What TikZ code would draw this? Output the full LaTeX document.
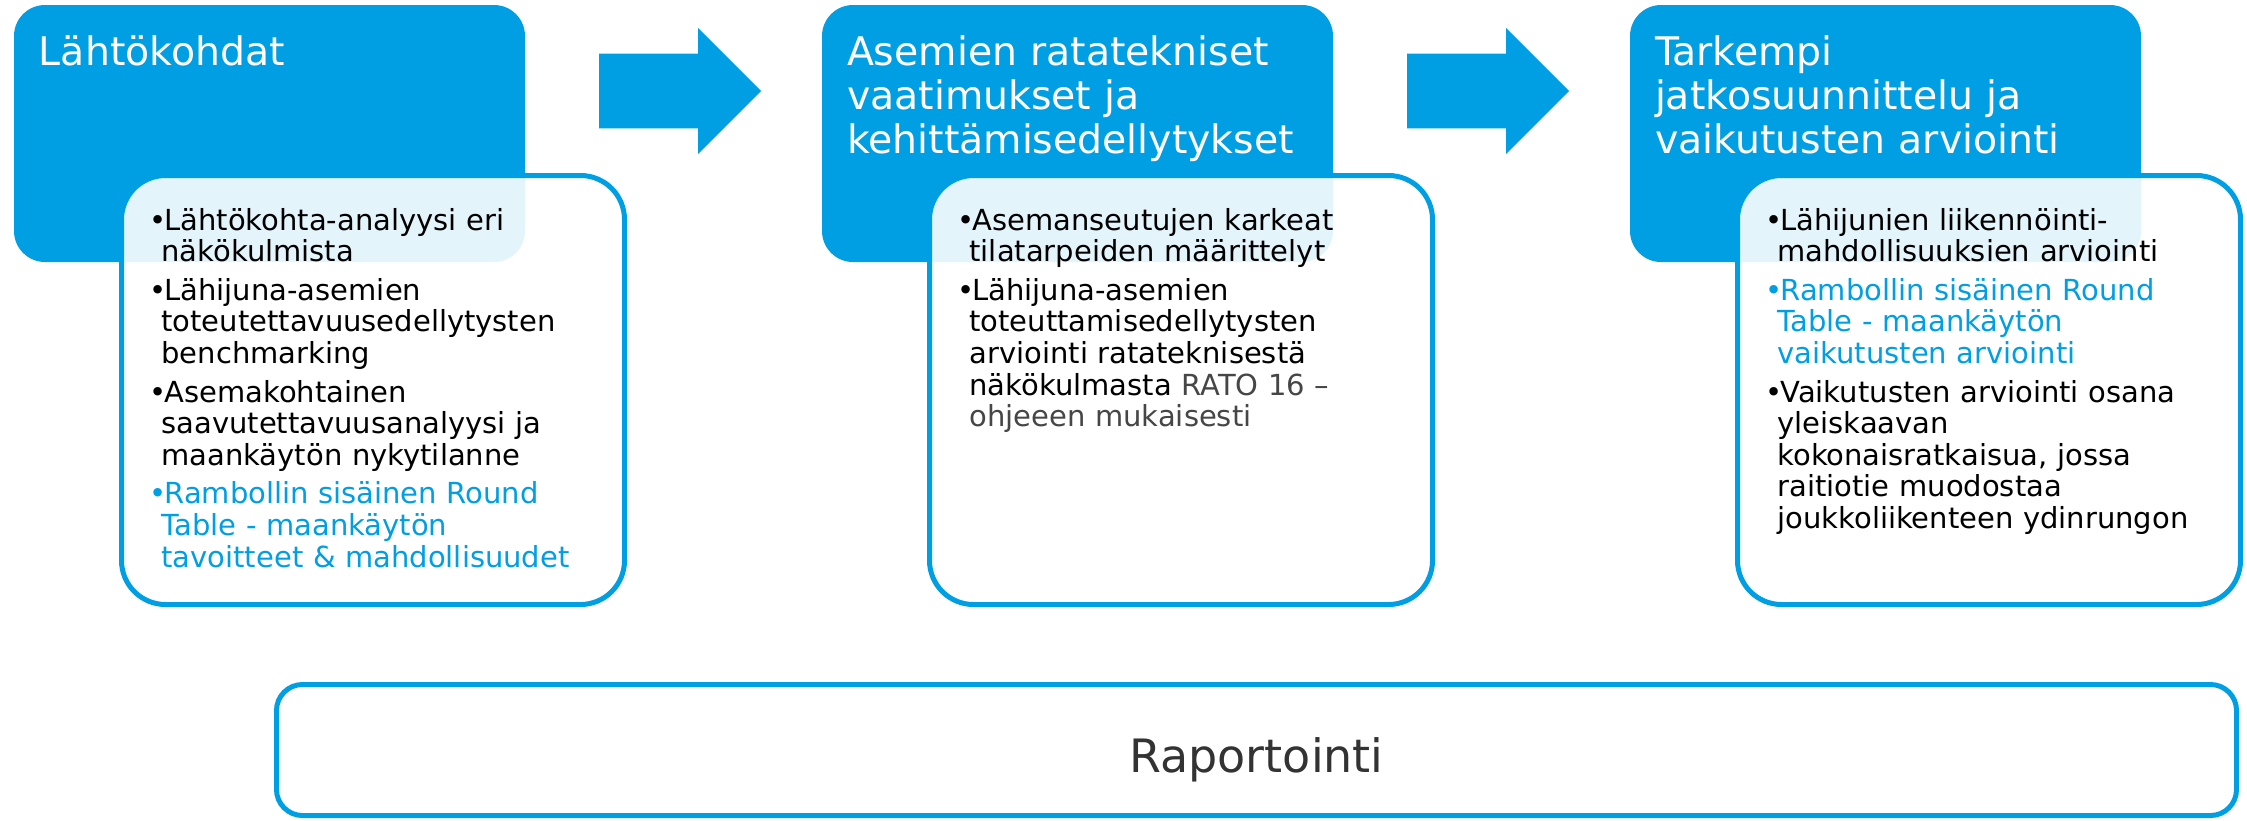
\documentclass[tikz,border=0pt]{standalone}
\usepackage{fontspec}
\setmainfont{DejaVu Sans}
\usepackage{xcolor}
\usetikzlibrary{positioning}
\usetikzlibrary{shapes.arrows}

\definecolor{rblue}{RGB}{0,158,227}
\definecolor{rgrey}{RGB}{51,51,51}
\definecolor{rdark}{RGB}{70,70,70}

\newcommand{\itm}[2][black]{\hangindent=4pt\hangafter=1\noindent
    {\color{#1}\makebox[5.5pt][l]{\hspace{-2pt}•}#2}\parskip=3.5pt\par}

\begin{document}
\begin{tikzpicture}[
    basic/.style={inner sep=0,outer sep=0},
    phase/.style={basic,fill=rblue,rounded corners=15.5pt,minimum width=255.5pt,minimum height=128.5pt},
    phasetitle/.style={basic,text=white,align=left,text width=240pt,font=\fontsize{19.7pt}{22pt}\selectfont},
    tasks/.style={basic,draw=rblue,line width=2.5pt,fill=white,fill opacity=0.89,rounded corners=22pt,minimum width=251.5pt,minimum height=214.5pt},
    tasklist/.style={basic,align=left,text width=232pt,font=\fontsize{14.5pt}{15.8pt}\selectfont},
    flow/.style={basic,single arrow,fill=rblue,inner ysep=18.5pt,minimum height=81pt,single arrow head extend=12.75pt},
    report/.style={basic,draw=rblue,line width=2.5pt,rounded corners=13pt,minimum width=980pt,minimum height=65.5pt,
        text=rgrey,font=\fontsize{23pt}{26pt}\selectfont,text height=22pt,text depth=0pt},
]
    \useasboundingbox (0,0) rectangle (1123.5pt,-410pt);
    % phases
    \node[phase] (s1) at (134.75pt,-66.75pt) {};
    \node[phase,right=148.5pt of s1] (s2) {};
    \node[phase,right=148.5pt of s2] (s3) {};
    \node[flow,anchor=tail] (a1) at ([xshift=37pt,yshift=-43pt]s1.north east) {};
    \node[flow,anchor=tail] (a2) at ([xshift=37pt,yshift=-43pt]s2.north east) {};
    \node[phasetitle,anchor=base west] (t1) at ([xshift=12.5pt,yshift=-30pt]s1.north west) {Lähtökohdat};
    \node[phasetitle,anchor=base west] (t2) at ([xshift=12.5pt,yshift=-30pt]s2.north west)
        {Asemien ratatekniset\\vaatimukset ja\\kehittämisedellytykset};
    \node[phasetitle,anchor=base west] (t3) at ([xshift=12.5pt,yshift=-30pt]s3.north west)
        {Tarkempi\\jatkosuunnittelu ja\\vaikutusten arviointi};
    % task cards
    \node[tasks,anchor=north west] (c1) at ([xshift=53.75pt,yshift=-85.25pt]s1.north west) {};
    \node[tasks,anchor=north west] (c2) at ([xshift=53.75pt,yshift=-85.25pt]s2.north west) {};
    \node[tasks,anchor=north west] (c3) at ([xshift=53.75pt,yshift=-85.25pt]s3.north west) {};
    \node[tasklist,anchor=base west] (l1) at ([xshift=16pt,yshift=-27.25pt]c1.north west) {%
        \itm{Lähtökohta-analyysi eri\newline näkökulmista}
        \itm{Lähijuna-asemien\newline toteutettavuusedellytysten\newline benchmarking}
        \itm{Asemakohtainen\newline saavutettavuusanalyysi ja\newline maankäytön nykytilanne}
        \itm[rblue]{Rambollin sisäinen Round\newline Table - maankäytön\newline tavoitteet \& mahdollisuudet}};
    \node[tasklist,anchor=base west] (l2) at ([xshift=16pt,yshift=-27.25pt]c2.north west) {%
        \itm{Asemanseutujen karkeat\newline tilatarpeiden määrittelyt}
        \itm{Lähijuna-asemien\newline toteuttamisedellytysten\newline arviointi ratateknisestä\newline
            näkökulmasta {\color{rdark}RATO 16 –\newline ohjeeen mukaisesti}}};
    \node[tasklist,anchor=base west] (l3) at ([xshift=16pt,yshift=-27.25pt]c3.north west) {%
        \itm{Lähijunien liikennöinti-\newline mahdollisuuksien arviointi}
        \itm[rblue]{Rambollin sisäinen Round\newline Table - maankäytön\newline vaikutusten arviointi}
        \itm{Vaikutusten arviointi osana\newline yleiskaavan\newline kokonaisratkaisua, jossa\newline
            raitiotie muodostaa\newline joukkoliikenteen ydinrungon}};
    % reporting
    \node[report,anchor=north west] (rap) at ([xshift=77.5pt,yshift=-40pt]c1.south west) {Raportointi};
\end{tikzpicture}
\end{document}
